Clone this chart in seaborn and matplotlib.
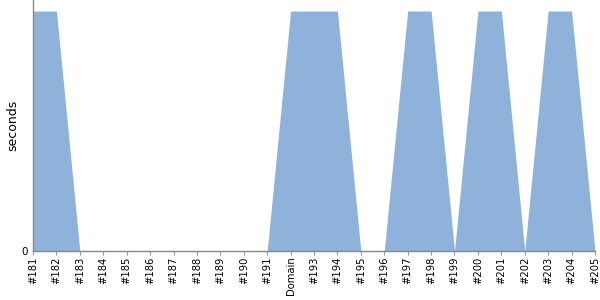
import matplotlib
matplotlib.use("Agg")
import matplotlib.pyplot as plt
import seaborn as sns
import pandas as pd

categories = ["#181", "#182", "#183", "#184", "#185", "#186", "#187", "#188", "#189",
              "#190", "#191", "Domain", "#193", "#194", "#195", "#196", "#197", "#198",
              "#199", "#200", "#201", "#202", "#203", "#204", "#205"]
seconds = [1, 1, 0, 0, 0, 0, 0, 0, 0, 0, 0, 1, 1, 1, 0, 0, 1, 1, 0, 1, 1, 0, 1, 1, 0]

sns.set_style("white")
plt.rcParams['font.family'] = ['DejaVu Sans']

df = pd.DataFrame({"x": range(len(categories)), "seconds": seconds})

fig = plt.figure(figsize=(6, 3), dpi=100)
ax = fig.add_axes([33/600, 49/300, 562/600, 251/300])
color = "#8fb2db"
sns.lineplot(data=df, x="x", y="seconds", ax=ax, color=color, linewidth=0)
ax.fill_between(df["x"], df["seconds"], 0, color=color, linewidth=0)

ax.set_xlim(0, len(categories) - 1)
ax.set_ylim(0, 251/240)
ax.set_xticks(range(len(categories)))
ax.set_xticklabels(categories, rotation=90, fontsize=7.2)
ax.set_yticks([0])
ax.set_yticklabels(["0"], fontsize=7.5)
ax.set_xlabel("")
ax.set_ylabel("seconds", fontsize=9, labelpad=1, color="black")
ax.tick_params(axis="x", length=3, color="#999999", pad=1, direction="out",
               bottom=True, labelcolor="black")
ax.tick_params(axis="y", length=0, pad=4, labelcolor="black")
for s in ["top", "right"]:
    ax.spines[s].set_visible(False)
for s in ["left", "bottom"]:
    ax.spines[s].set_color("#888888")
    ax.spines[s].set_linewidth(1)

fig.savefig("out.png", dpi=100)
